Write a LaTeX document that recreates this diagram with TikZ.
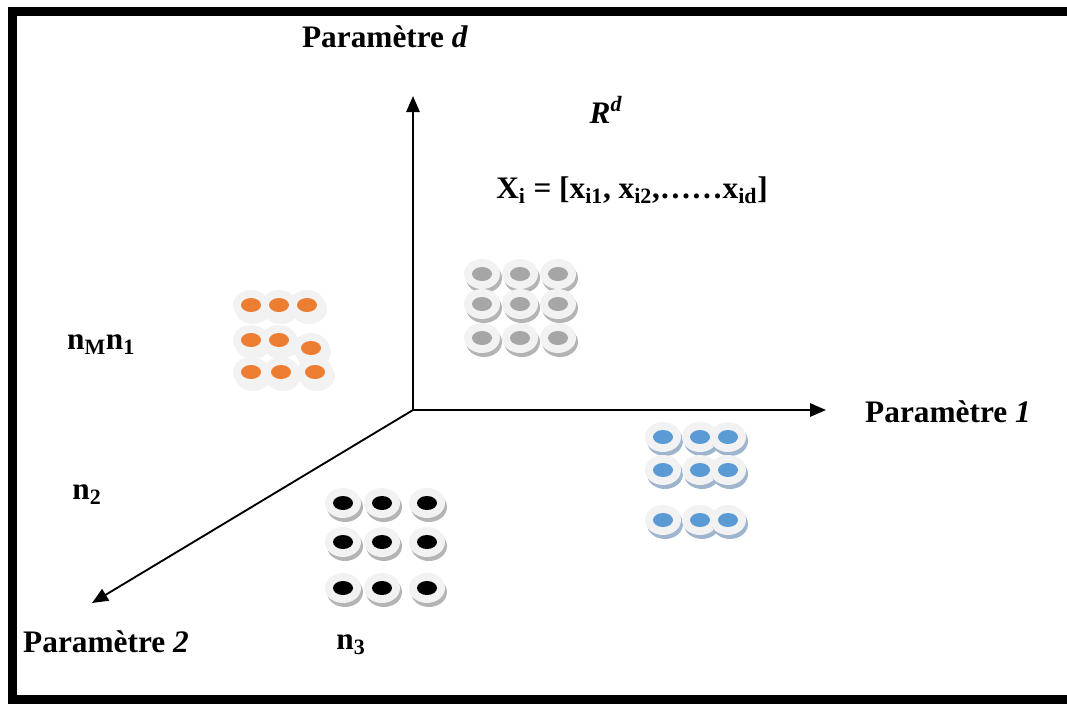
\documentclass[tikz,border=0pt]{standalone}
\usepackage{fontspec}
\setmainfont{Liberation Serif}
\usetikzlibrary{arrows.meta}
\definecolor{ringgrey}{HTML}{F2F2F2}
\definecolor{dotorange}{HTML}{ED7D31}
\definecolor{dotgrey}{HTML}{A6A6A6}
\definecolor{dotblue}{HTML}{5B9BD5}
\definecolor{shadegrey}{HTML}{B4B4B4}
\definecolor{shadeblue}{HTML}{9FB5CD}

% one marked point: x, y, inner colour, shadow colour
\newcommand{\puce}[4]{%
  \fill[#4] ({#1+2},{#2+4}) ellipse [x radius=18, y radius=15];
  \fill[ringgrey] (#1,#2) ellipse [x radius=18, y radius=15];
  \fill[#3] (#1,#2) ellipse [x radius=10, y radius=7];
}

\begin{document}
\begin{tikzpicture}[
    x=0.75pt, y=-0.75pt,
    every node/.style={font=\fontsize{23.5}{28}\selectfont\bfseries, inner sep=0pt},
    axis/.style={-{Triangle[length=12pt,width=10pt]}, line width=1.4pt}
]
\useasboundingbox (0,0) rectangle (1067,704);
\draw[line width=6.8pt] (12.5,11.5) rectangle (1090,699.5);

% axes
\coordinate (O) at (413,410);
\coordinate (ad) at (413,96);
\coordinate (a1) at (826,410);
\coordinate (a2) at (92,603);
\draw[axis] (O) -- (ad);
\draw[axis] (O) -- (a1);
\draw[axis] (O) -- (a2);

% labels
\node (pd) at (385,37) {Paramètre \textit{d}};
\node (p1) at (948,412) {Paramètre \textit{1}};
\node (p2) at (106,642) {Paramètre \textit{2}};
\node (rd) at (606,110) {\textit{R}\textsuperscript{\textit{d}}};
\node (xi) at (632,190) {X\textsubscript{i} = [x\textsubscript{i1}, x\textsubscript{i2},……x\textsubscript{id}]};
\node (nm) at (101,345) {n\textsubscript{M}n\textsubscript{1}};
\node (n2) at (87,495) {n\textsubscript{2}};
\node (n3) at (351,645) {n\textsubscript{3}};

% clusters
\foreach \x/\y in {251/305, 279/305, 307/305, 251/340, 279/340, 311/348, 251/372, 281/372, 315/372}
  \puce{\x}{\y}{dotorange}{ringgrey};
\foreach \x in {482,520,558}
  \foreach \y in {274,304,338}
    \puce{\x}{\y}{dotgrey}{shadegrey};
\foreach \x in {663,700,728}
  \foreach \y in {437,470,520}
    \puce{\x}{\y}{dotblue}{shadeblue};
\foreach \x in {343,382,427}
  \foreach \y in {503,542,588}
    \puce{\x}{\y}{black}{shadegrey};
\end{tikzpicture}
\end{document}
